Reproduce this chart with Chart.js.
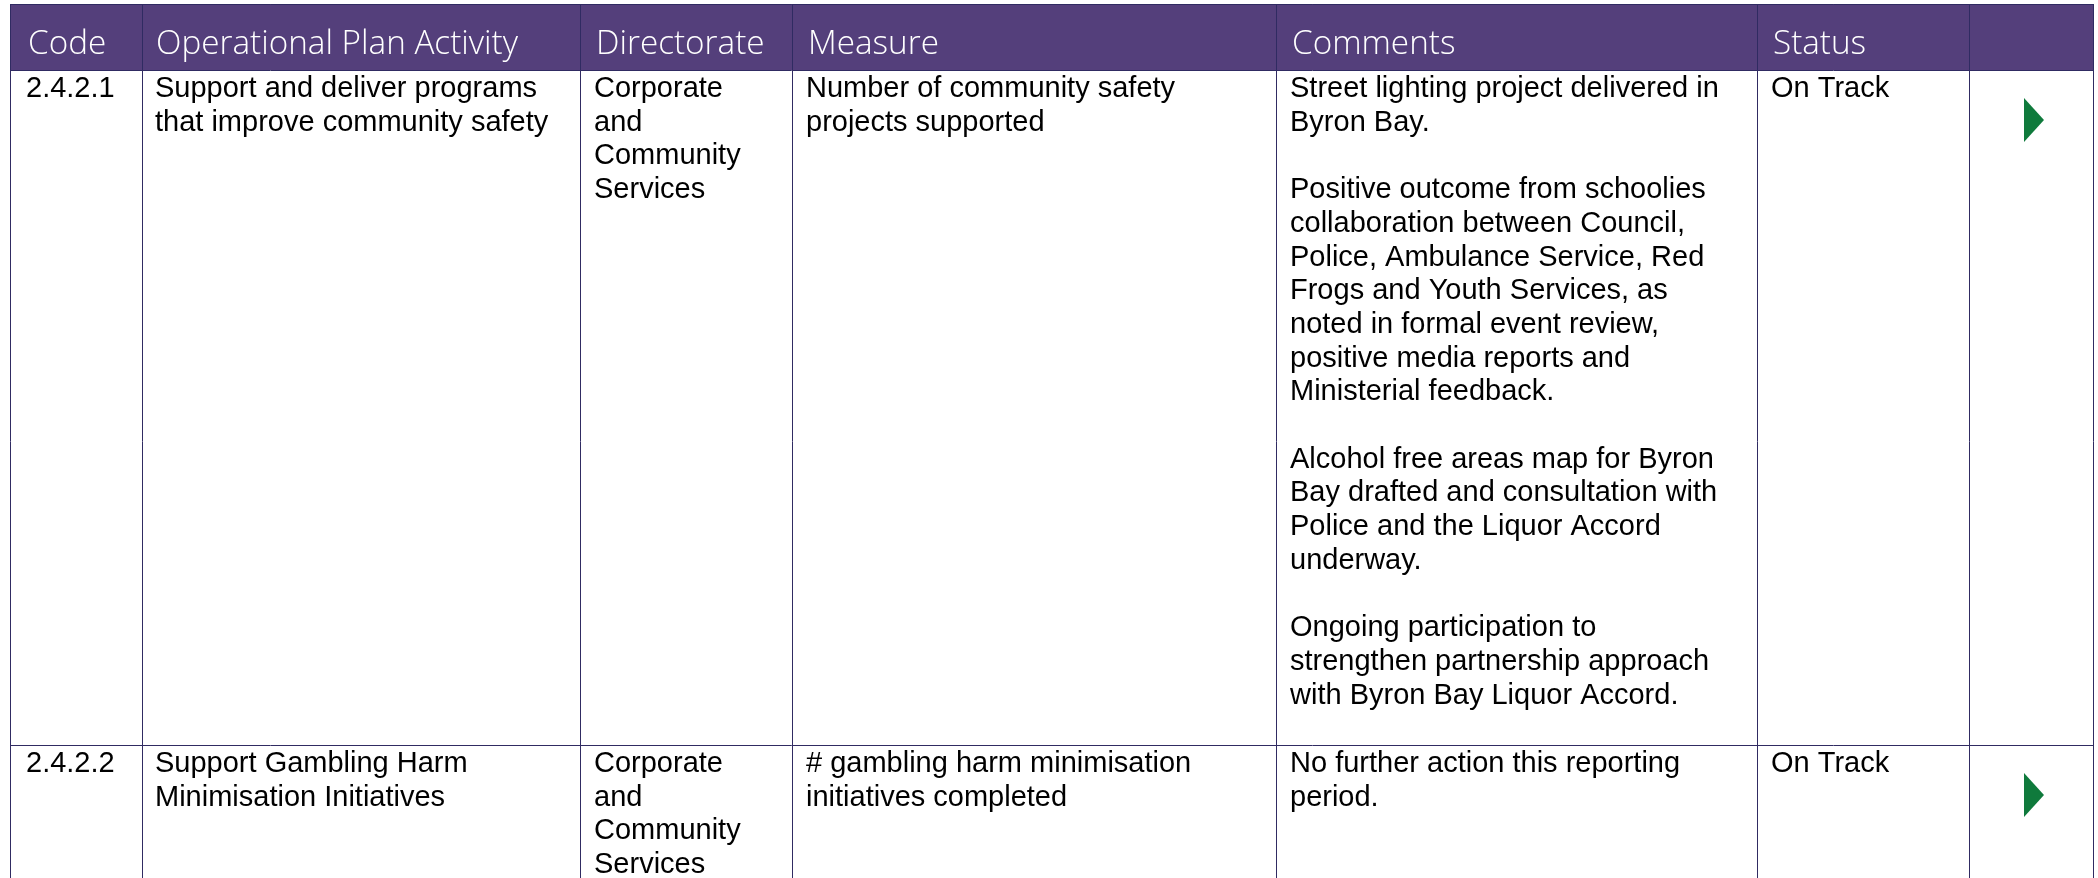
<!DOCTYPE html>
<html><head><meta charset="utf-8">
<script src="https://cdn.jsdelivr.net/npm/chart.js@4"></script>
<style>html,body{margin:0;padding:0;background:#fff;overflow:hidden}#wrap{width:2098px;height:878px;position:relative}</style>
</head><body><div id="wrap"><canvas id="c"></canvas></div>
<script>
// ---- data ----
const headers = ["Code", "Operational Plan Activity", "Directorate", "Measure", "Comments", "Status", ""];
const codes = ["2.4.2.1", "2.4.2.2"];
const activities = [
  ["Support and deliver programs", "that improve community safety"],
  ["Support Gambling Harm", "Minimisation Initiatives"]
];
const directorates = [
  ["Corporate", "and", "Community", "Services"],
  ["Corporate", "and", "Community", "Services"]
];
const measures = [
  ["Number of community safety", "projects supported"],
  ["# gambling harm minimisation", "initiatives completed"]
];
const comments = [
  ["Street lighting project delivered in", "Byron Bay.", "",
   "Positive outcome from schoolies", "collaboration between Council,", "Police, Ambulance Service, Red",
   "Frogs and Youth Services, as", "noted in formal event review,", "positive media reports and",
   "Ministerial feedback.", "",
   "Alcohol free areas map for Byron", "Bay drafted and consultation with", "Police and the Liquor Accord",
   "underway.", "",
   "Ongoing participation to", "strengthen partnership approach", "with Byron Bay Liquor Accord."],
  ["No further action this reporting", "period."]
];
const statuses = ["On Track", "On Track"];
const statusArrows = ["right", "right"];

// ---- layout ----
const W = 2098, H = 878;
const colEdges = [10, 142, 580, 792, 1276, 1757, 1969, 2093];
const colPad = [16, 13, 14, 14, 14, 14, 14];
const headerPad = [18, 14, 16, 16, 16, 16, 16];
const headerTop = 4, headerBottom = 70;
const rowTops = [70, 745];
const rowBottoms = [745, 1420];
const lineH = 33.7, firstBaseline = 27, iconOffsetY = 50, iconShift = 3;
const bodyFont = '29px "Liberation Sans", Arial, sans-serif';
const headerFamily = '"Open Sans", "Noto Sans", sans-serif';
const purple = '#543f7b', lineCol = '#302b62', green = '#0f7a3c';

function triangleCanvas(w, h) {
  const c = document.createElement('canvas');
  c.width = w; c.height = h;
  const g = c.getContext('2d');
  g.fillStyle = green;
  g.beginPath(); g.moveTo(0, 0); g.lineTo(w, h / 2); g.lineTo(0, h); g.closePath(); g.fill();
  return c;
}
const arrowImg = triangleCanvas(20, 44);

const tablePlugin = {
  id: 'table',
  beforeDatasetsDraw(chart) {
    const ctx = chart.ctx, xs = chart.scales.x, ys = chart.scales.y;
    const X = v => Math.round(xs.getPixelForValue(v));
    const Y = v => Math.round(ys.getPixelForValue(v));
    ctx.save();
    ctx.fillStyle = '#fff';
    ctx.fillRect(0, 0, chart.width, chart.height);
    // header band
    ctx.fillStyle = purple;
    ctx.fillRect(X(colEdges[0]), Y(headerTop), X(colEdges[7]) - X(colEdges[0]), Y(headerBottom) - Y(headerTop));
    // header font fitted to the reference width of the longest heading
    let hs = 28;
    ctx.font = '300 ' + hs + 'px ' + headerFamily;
    const mw = ctx.measureText(headers[1]).width;
    hs = hs * 362 / mw;
    ctx.font = '300 ' + hs.toFixed(2) + 'px ' + headerFamily;
    ctx.fillStyle = '#ffffff';
    ctx.textBaseline = 'alphabetic';
    headers.forEach((h, i) => {
      ctx.fillText(h, X(colEdges[i] + headerPad[i]), Y(54));
    });
    // body text
    ctx.font = bodyFont;
    ctx.fillStyle = '#000';
    const cols = [codes.map(c => [c]), activities, directorates, measures, comments, statuses.map(s => [s])];
    cols.forEach((col, ci) => {
      col.forEach((lines, ri) => {
        lines.forEach((t, li) => {
          if (!t) return;
          ctx.fillText(t, X(colEdges[ci] + colPad[ci]), Y(rowTops[ri] + firstBaseline + li * lineH));
        });
      });
    });
    // grid lines
    ctx.strokeStyle = lineCol;
    ctx.lineWidth = 1;
    ctx.beginPath();
    colEdges.forEach(x => {
      ctx.moveTo(X(x) + 0.5, Y(headerTop)); ctx.lineTo(X(x) + 0.5, Y(H) + 10);
    });
    [headerTop, headerBottom, ...rowBottoms].forEach(y => {
      ctx.moveTo(X(colEdges[0]), Y(y) + 0.5); ctx.lineTo(X(colEdges[7]) + 1, Y(y) + 0.5);
    });
    ctx.stroke();
    ctx.restore();
  }
};

const iconX = (colEdges[6] + colEdges[7]) / 2 + iconShift;
new Chart(document.getElementById('c'), {
  type: 'scatter',
  data: {
    datasets: [{
      label: 'Status',
      data: statusArrows.map((s, i) => ({ x: iconX, y: rowTops[i] + iconOffsetY })),
      pointStyle: arrowImg,
      pointRadius: 10,
      clip: false
    }]
  },
  options: {
    responsive: true, maintainAspectRatio: false, animation: false,
    layout: { padding: 0, autoPadding: false },
    scales: {
      x: { type: 'linear', min: 0, max: W, display: false },
      y: { type: 'linear', min: 0, max: H, reverse: true, display: false }
    },
    plugins: { legend: { display: false }, tooltip: { enabled: false } },
    events: []
  },
  plugins: [tablePlugin]
});
</script>
</body></html>
